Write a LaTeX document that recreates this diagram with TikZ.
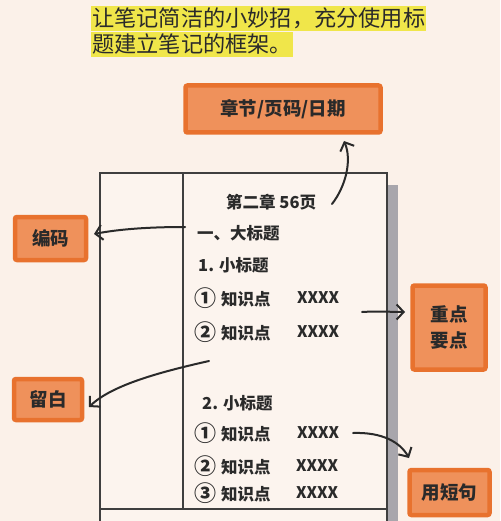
\documentclass[tikz,border=0pt]{standalone}
\usepackage{fontspec}
\setmainfont{Noto Sans CJK SC}
\newfontfamily\cjk{Noto Sans CJK SC}
\usetikzlibrary{arrows.meta}
\definecolor{bg}{HTML}{FBF1E9}
\definecolor{hl}{HTML}{F0E64A}
\definecolor{obord}{HTML}{E8722E}
\definecolor{ofill}{HTML}{EF915B}
\definecolor{ink}{HTML}{2A2A2A}
\definecolor{pgshadow}{HTML}{A8A6AC}
\definecolor{paper}{HTML}{FCF4EE}
\tikzset{
  titletext/.style={font=\cjk\fontsize{22.2}{24}\selectfont, text=ink, fill=hl, anchor=west, inner xsep=1pt, inner ysep=0pt, minimum height=25pt},
  obox/.style={draw=obord, line width=4.5pt, fill=ofill, rounded corners=2pt, font=\cjk\bfseries\fontsize{18.5}{26}\selectfont, text=ink, align=center, inner sep=0pt},
  notetext/.style={font=\cjk\bfseries\fontsize{16.5}{18}\selectfont, text=ink, anchor=west, inner sep=0pt},
  xtext/.style={font=\cjk\bfseries\fontsize{16}{18}\selectfont, text=ink, anchor=west, inner sep=0pt},
  page/.style={draw=ink!90, line width=1.8pt},
  arr/.style={draw=ink, line width=2pt, line cap=round, -{Straight Barb[length=7pt, width=15pt, line width=2pt]}}
}
\newcommand{\numb}[1]{\makebox[27pt][l]{\raisebox{-1pt}{\fontsize{22}{22}\selectfont #1}}}
\begin{document}
\begin{tikzpicture}[x=1pt, y=-1pt]
\useasboundingbox[fill=bg] (0,0) rectangle (500,521);
% title
\node[titletext] (t1) at (91,18.5) {让笔记简洁的小妙招，充分使用标};
\node[titletext] (t2) at (91,44.5) {题建立笔记的框架。};
% notebook
\fill[pgshadow] (387,185) rectangle (398,521);
\fill[paper] (100,173) rectangle (387,521);
\draw[page] (100,521) -- (100,173) -- (387,173) -- (387,521);
\draw[page] (183,173) -- (183,509);
\draw[page] (100,509) -- (387,509);
% boxes
\node[obox, minimum width=195pt, minimum height=47pt] (top) at (283,109) {章节/页码/日期};
\node[obox, minimum width=71pt, minimum height=43pt] (code) at (50.5,238.5) {编码};
\node[obox, minimum width=68pt, minimum height=41pt] (blank) at (48,399.5) {留白};
\node[obox, minimum width=73pt, minimum height=84pt] (key) at (449,327.5) {重点\\要点};
\node[obox, minimum width=80pt, minimum height=45pt] (short) at (449.5,492.5) {用短句};
% notebook text
\node[notetext] (ch) at (226,202) {第二章 56页};
\node[notetext] (h1) at (197,233) {一、大标题};
\node[notetext] (s1) at (198,265) {1. 小标题};
\node[notetext] (k11) at (194,298) {\numb{①}知识点};
\node[xtext] (x11) at (297,298) {XXXX};
\node[notetext] (k12) at (194,332) {\numb{②}知识点};
\node[xtext] (x12) at (297,332) {XXXX};
\node[notetext] (s2) at (202,403) {2. 小标题};
\node[notetext] (k21) at (194,433) {\numb{①}知识点};
\node[xtext] (x21) at (297,433) {XXXX};
\node[notetext] (k22) at (194,466) {\numb{②}知识点};
\node[xtext] (x22) at (296,466) {XXXX};
\node[notetext] (k23) at (194,493) {\numb{③}知识点};
\node[xtext] (x23) at (296,493) {XXXX};
% arrow anchors
\coordinate (a1s) at (332,204);
\coordinate (a1e) at (344,141);
\coordinate (a2s) at (185,227);
\coordinate (a2e) at (94,234);
\coordinate (a3s) at (209,361);
\coordinate (a3e) at (89,407);
\coordinate (a4s) at (362,312);
\coordinate (a4e) at (405,312);
\coordinate (a5s) at (353,433);
\coordinate (a5e) at (409,458);
% arrows
\draw[arr] (a1s) .. controls (346,186) and (352,160) .. (a1e);
\draw[arr] (a2s) .. controls (150,227) and (120,229) .. (a2e);
\draw[arr] (a3s) .. controls (160,372) and (112,385) .. (a3e);
\draw[arr] (a4s) .. controls (378,311) and (392,312) .. (a4e);
\draw[arr] (a5s) .. controls (382,432) and (400,442) .. (a5e);
\end{tikzpicture}
\end{document}
